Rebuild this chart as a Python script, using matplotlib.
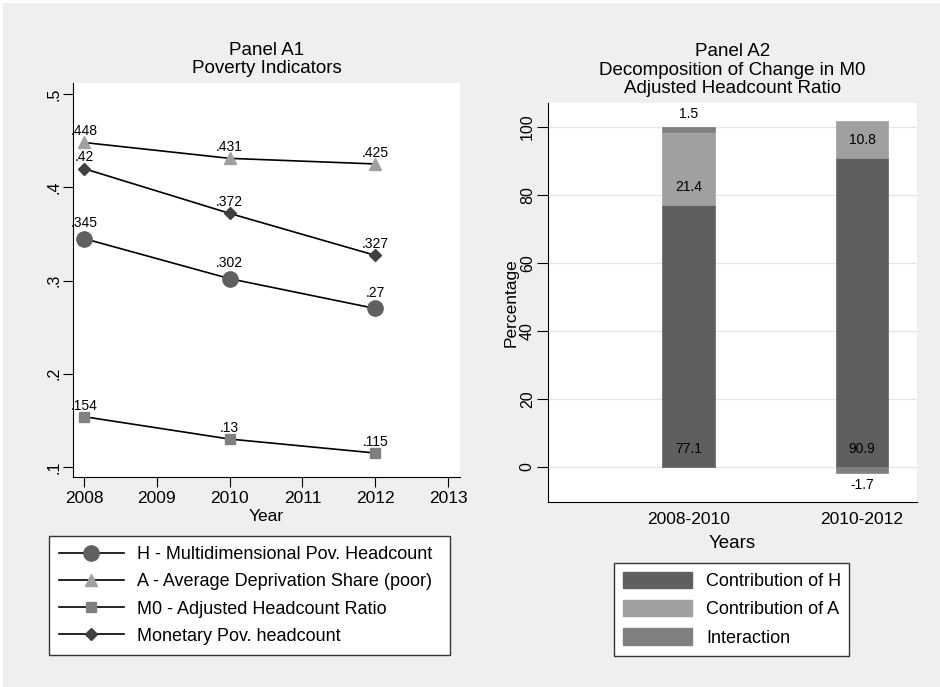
"""Poverty indicators (Panel A1) and M0 change decomposition (Panel A2)."""
import numpy as np
import matplotlib
matplotlib.use("Agg")
import matplotlib.pyplot as plt
from matplotlib.patches import Rectangle, Patch
from matplotlib.lines import Line2D

plt.rcParams["font.family"] = ["Liberation Sans", "DejaVu Sans"]

# Panel A1 data
years = [2008, 2010, 2012]
h_headcount = [0.345, 0.302, 0.27]
a_deprivation = [0.448, 0.431, 0.425]
m0_ratio = [0.154, 0.13, 0.115]
monetary = [0.42, 0.372, 0.327]

# Panel A2 data
periods = ["2008-2010", "2010-2012"]
contrib_h = [77.1, 90.9]
contrib_a = [21.4, 10.8]
interaction = [1.5, -1.7]

BG = "#efefef"
W, H = 940, 687


def stata_fmt(v):
    s = f"{v:g}"
    return s.replace("0.", ".", 1) if s.startswith("0.") else s


fig = plt.figure(figsize=(W / 100, H / 100), dpi=100, facecolor="white")
fig.patches.append(Rectangle((3 / W, 0), 1, 1 - 3 / H, transform=fig.transFigure,
                             facecolor=BG, edgecolor="none", zorder=-10))

# ---- Panel A1 ----
ax1 = fig.add_axes([73 / W, 1 - 477 / H, 387 / W, 394 / H])
series = [
    (h_headcount, "o", 11, "#606060", 11, "H - Multidimensional Pov. Headcount"),
    (a_deprivation, "^", 8, "#a0a0a0", 8, "A - Average Deprivation Share (poor)"),
    (m0_ratio, "s", 7, "#808080", 8, "M0 - Adjusted Headcount Ratio"),
    (monetary, "D", 6.5, "#404040", 8.5, "Monetary Pov. headcount"),
]
handles = []
for vals, mk, ms, col, off, lab in series:
    ax1.plot(years, vals, color="black", lw=1.2, zorder=2)
    ax1.plot(years, vals, ls="none", marker=mk, ms=ms, mfc=col, mec=col, zorder=3)
    for x, v in zip(years, vals):
        ax1.annotate(stata_fmt(v), (x, v), xytext=(0, off), textcoords="offset points",
                     ha="center", va="center", fontsize=10)
    handles.append(Line2D([], [], color="black", lw=1.2, marker=mk, ms=ms,
                          mfc=col, mec=col, label=lab))

ax1.set_xlim(2007.849, 2013.165)
ax1.set_ylim(0.0893, 0.5118)
ax1.set_xticks(range(2008, 2014))
ax1.set_yticks([0.1, 0.2, 0.3, 0.4, 0.5])
ax1.set_yticklabels([".1", ".2", ".3", ".4", ".5"], rotation=90, va="center")
ax1.tick_params(axis="x", labelsize=12.5, length=7, pad=3)
ax1.tick_params(axis="y", labelsize=11.5, length=7, pad=1.5)
ax1.set_xlabel("Year", fontsize=12.5, labelpad=2)
ax1.set_title("Panel A1\nPoverty Indicators", fontsize=13.5, linespacing=1.12, pad=7)
for s in ["top", "right"]:
    ax1.spines[s].set_visible(False)

fig.legend(handles=handles, loc="upper left",
           bbox_to_anchor=(49 / W, 1 - 536 / H, 401 / W, 0), mode="expand",
           fontsize=13, frameon=True, fancybox=False, edgecolor="#333333",
           framealpha=1, handlelength=3.6, handletextpad=0.75, labelspacing=0.57,
           borderpad=0.55, borderaxespad=0)

# ---- Panel A2 ----
ax2 = fig.add_axes([548 / W, 1 - 502 / H, 369 / W, 399 / H])
xpos = np.arange(1, len(periods) + 1)
segments = [
    (contrib_h, "#5f5f5f", "Contribution of H"),
    (contrib_a, "#a0a0a0", "Contribution of A"),
    (interaction, "#808080", "Interaction"),
]
pos_base = np.zeros(len(periods))
neg_base = np.zeros(len(periods))
for vals, col, lab in segments:
    vals = np.array(vals)
    base = np.where(vals >= 0, pos_base, neg_base)
    ax2.bar(xpos, vals, bottom=base, width=0.3, color=col, edgecolor=col,
            linewidth=0.5, zorder=2)
    for x, b, v in zip(xpos, base, vals):
        off = 13 if v >= 0 else -13
        ax2.annotate(stata_fmt(v), (x, b), xytext=(0, off), textcoords="offset points",
                     ha="center", va="center", fontsize=10, zorder=3)
    pos_base = pos_base + np.where(vals >= 0, vals, 0)
    neg_base = neg_base + np.where(vals < 0, vals, 0)

ax2.set_xlim(0.19, 2.317)
ax2.set_ylim(-10.28, 106.96)
ax2.set_xticks(xpos)
ax2.set_xticklabels(periods)
ax2.set_yticks(range(0, 101, 20))
ax2.set_yticklabels([str(v) for v in range(0, 101, 20)], rotation=90, va="center")
ax2.tick_params(axis="x", labelsize=12.5, length=0, pad=7)
ax2.tick_params(axis="y", labelsize=11.5, length=8, pad=1.5)
ax2.grid(axis="y", color="#e6e6e6", lw=1, zorder=0)
ax2.set_axisbelow(True)
ax2.set_xlabel("Years", fontsize=13.5, labelpad=6)
ax2.set_ylabel("Percentage", fontsize=12.5, labelpad=1)
ax2.set_title("Panel A2\nDecomposition of Change in M0\nAdjusted Headcount Ratio",
              fontsize=13.5, linespacing=1.12, pad=7)
for s in ["top", "right"]:
    ax2.spines[s].set_visible(False)

bar_handles = [Patch(facecolor=c, edgecolor=c, label=l) for _, c, l in segments]
fig.legend(handles=bar_handles, loc="upper left",
           bbox_to_anchor=(614 / W, 1 - 563 / H, 235 / W, 0), mode="expand",
           fontsize=13, frameon=True, fancybox=False, edgecolor="#333333",
           framealpha=1, handlelength=3.8, handleheight=1.0, handletextpad=0.8,
           labelspacing=0.55, borderpad=0.5, borderaxespad=0)

fig.savefig("out.png", dpi=100, facecolor=fig.get_facecolor())
